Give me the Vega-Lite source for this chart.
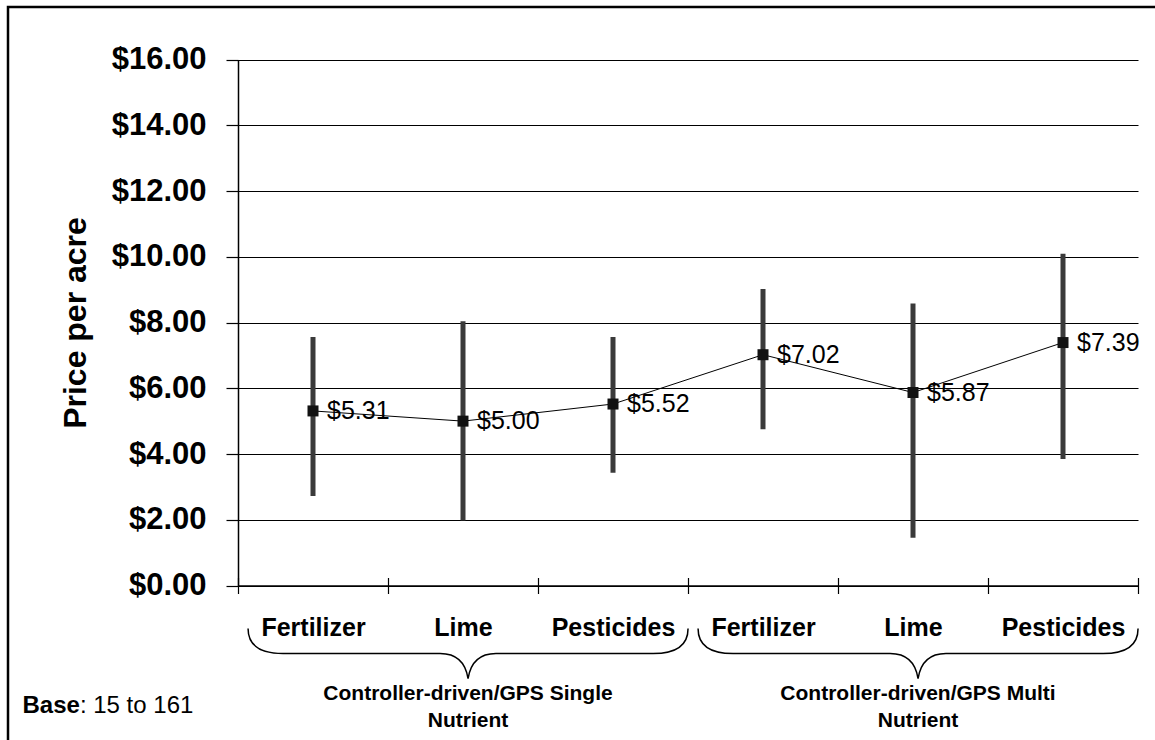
{
  "$schema": "https://vega.github.io/schema/vega-lite/v6.json",
  "width": 1150,
  "height": 736,
  "autosize": "none",
  "padding": {"left": 8, "top": 7, "right": 0, "bottom": 0},
  "background": "white",
  "config": {
    "font": "Liberation Sans",
    "view": {"stroke": "black", "strokeWidth": 2.5, "fill": "white"}
  },
  "data": {
    "values": [
      {"key": "S|Fertilizer", "cat": "Fertilizer", "group": "Controller-driven/GPS Single\nNutrient", "mean": 5.31, "lo": 2.72, "hi": 7.56},
      {"key": "S|Lime", "cat": "Lime", "group": "Controller-driven/GPS Single\nNutrient", "mean": 5.00, "lo": 1.98, "hi": 8.04},
      {"key": "S|Pesticides", "cat": "Pesticides", "group": "Controller-driven/GPS Single\nNutrient", "mean": 5.52, "lo": 3.43, "hi": 7.56},
      {"key": "M|Fertilizer", "cat": "Fertilizer", "group": "Controller-driven/GPS Multi\nNutrient", "mean": 7.02, "lo": 4.75, "hi": 9.02},
      {"key": "M|Lime", "cat": "Lime", "group": "Controller-driven/GPS Multi\nNutrient", "mean": 5.87, "lo": 1.45, "hi": 8.58},
      {"key": "M|Pesticides", "cat": "Pesticides", "group": "Controller-driven/GPS Multi\nNutrient", "mean": 7.39, "lo": 3.85, "hi": 10.09}
    ]
  },
  "encoding": {
    "x": {
      "field": "key", "type": "nominal",
      "sort": ["S|Fertilizer", "S|Lime", "S|Pesticides", "M|Fertilizer", "M|Lime", "M|Pesticides"],
      "scale": {"type": "band", "range": [230, 1130], "paddingInner": 0, "paddingOuter": 0},
      "axis": null
    }
  },
  "layer": [
    {
      "mark": {"type": "rule", "strokeWidth": 5, "color": "#3a3a3a"},
      "encoding": {
        "x": {
          "field": "key", "type": "nominal",
          "sort": ["S|Fertilizer", "S|Lime", "S|Pesticides", "M|Fertilizer", "M|Lime", "M|Pesticides"],
          "scale": {"type": "band", "range": [230, 1130], "paddingInner": 0, "paddingOuter": 0},
          "axis": {
            "orient": "bottom", "offset": -157.5,
            "labelExpr": "split(datum.label, '|')[1]",
            "labelFontSize": 25, "labelFontWeight": "bold", "labelColor": "black",
            "labelPadding": 22, "labelAngle": 0,
            "tickBand": "extent", "tickSize": 8, "tickColor": "black", "tickWidth": 1.2,
            "domainColor": "black", "domainWidth": 1.5, "grid": false,
            "title": "Base", "titleFontSize": 24, "titleFontWeight": "bold", "titleColor": "black",
            "titleX": 14, "titleY": 120, "titleAlign": "left", "titleBaseline": "middle", "titleAngle": 0
          }
        },
        "y": {
          "field": "lo", "type": "quantitative",
          "scale": {"domain": [0, 16], "range": [578.5, 52.5]},
          "axis": {
            "offset": -230,
            "values": [0, 2, 4, 6, 8, 10, 12, 14, 16],
            "format": "$.2f",
            "labelFontSize": 31, "labelFontWeight": "bold", "labelColor": "black", "labelPadding": 20,
            "tickSize": 12, "tickColor": "black", "tickWidth": 1.2,
            "domainColor": "black", "domainWidth": 1.5,
            "grid": true, "gridColor": "black", "gridWidth": 1,
            "title": "Price per acre", "titleFontSize": 32, "titleFontWeight": "bold", "titleColor": "black",
            "titlePadding": 19
          }
        },
        "y2": {"field": "hi"}
      }
    },
    {
      "mark": {"type": "line", "color": "black", "strokeWidth": 1},
      "encoding": {"y": {"field": "mean", "type": "quantitative"}}
    },
    {
      "mark": {"type": "point", "shape": "square", "size": 121, "filled": true, "color": "#111111", "opacity": 1},
      "encoding": {"y": {"field": "mean", "type": "quantitative"}}
    },
    {
      "mark": {"type": "text", "align": "left", "baseline": "middle", "dx": 14, "fontSize": 25, "color": "black"},
      "encoding": {
        "y": {"field": "mean", "type": "quantitative"},
        "text": {"field": "mean", "type": "quantitative", "format": "$.2f"}
      }
    },
    {
      "transform": [{"filter": "datum.cat == 'Lime'"}],
      "mark": {
        "type": "point",
        "shape": "M -0.977 0.195 Q -0.977 0.309 -0.818 0.309 L -0.104 0.309 Q 0.005 0.309 0.023 0.423 Q 0.041 0.309 0.15 0.309 L 0.864 0.309 Q 1.023 0.309 1.023 0.195",
        "size": 193600, "filled": false, "stroke": "black", "strokeWidth": 1.5, "opacity": 1
      },
      "encoding": {
        "x": {
          "field": "key", "type": "nominal",
          "sort": ["S|Fertilizer", "S|Lime", "S|Pesticides", "M|Fertilizer", "M|Lime", "M|Pesticides"],
          "scale": {"type": "band", "range": [230, 1130], "paddingInner": 0, "paddingOuter": 0},
          "axis": {
            "orient": "bottom", "offset": -157.5,
            "labels": false, "ticks": false, "domain": false, "grid": false,
            "title": ": 15 to 161", "titleFontSize": 24, "titleFontWeight": "normal", "titleColor": "black",
            "titleX": 71.4, "titleY": 120, "titleAlign": "left", "titleBaseline": "middle", "titleAngle": 0
          }
        },
        "y": {"datum": 0, "type": "quantitative"}
      }
    },
    {
      "transform": [{"filter": "datum.cat == 'Lime'"}],
      "mark": {
        "type": "text", "lineBreak": "\n", "fontSize": 21, "fontWeight": "bold", "lineHeight": 27,
        "baseline": "middle", "align": "center", "dy": 108, "dx": 5, "color": "black"
      },
      "encoding": {
        "x": {
          "field": "key", "type": "nominal",
          "sort": ["S|Fertilizer", "S|Lime", "S|Pesticides", "M|Fertilizer", "M|Lime", "M|Pesticides"],
          "scale": {"type": "band", "range": [230, 1130], "paddingInner": 0, "paddingOuter": 0},
          "axis": {
            "orient": "bottom", "offset": -157.5,
            "labels": false, "domain": false, "grid": false, "title": null,
            "tickBand": "extent", "tickSize": -8, "tickColor": "black", "tickWidth": 1.2
          }
        },
        "y": {"datum": 0, "type": "quantitative"},
        "text": {"field": "group"}
      }
    }
  ],
  "resolve": {"axis": {"x": "independent"}}
}
